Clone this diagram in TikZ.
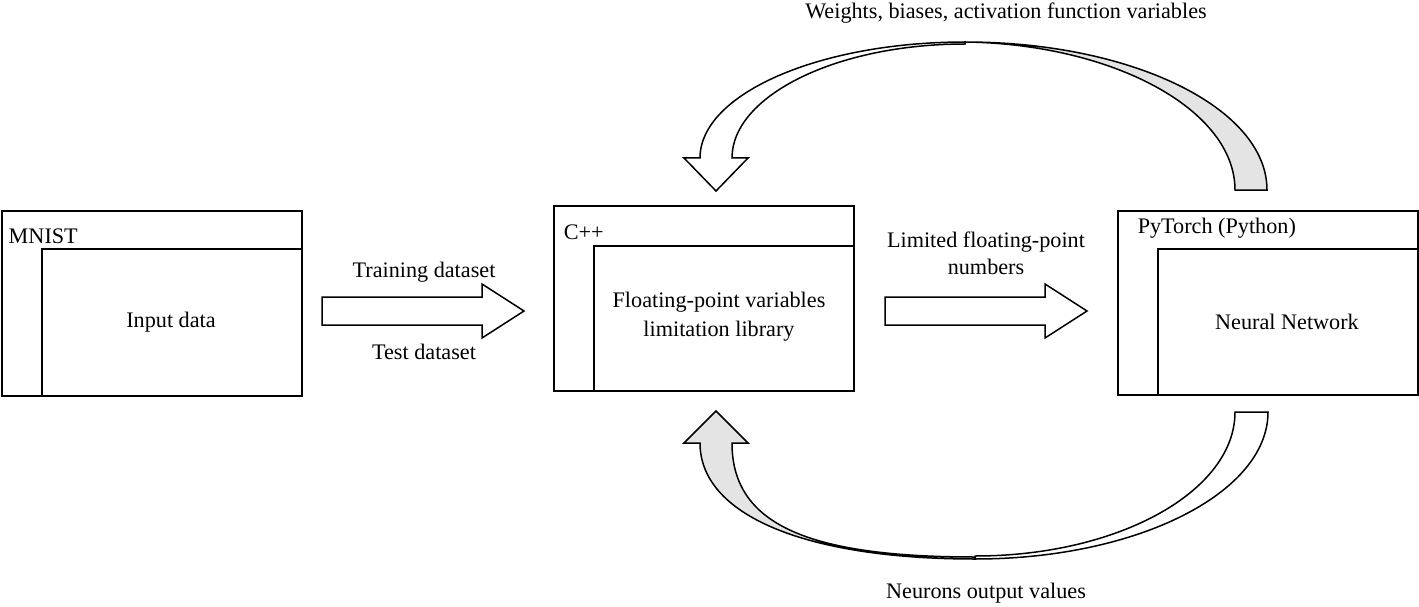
\documentclass[tikz,border=0pt]{standalone}
\usepackage{fontspec}
\setmainfont{Liberation Serif}
\definecolor{ribbon}{HTML}{E4E4E4}
\begin{document}
\begin{tikzpicture}[x=1pt,y=-1pt,line width=1.5pt,line join=miter,
  frame/.style={draw,line width=1.5pt,inner sep=0pt,anchor=north west},
  lbl/.style={font=\fontsize{22.2}{26}\selectfont,inner sep=0pt},
  blockarrow/.style={draw,fill=white,line width=1.5pt}]
\useasboundingbox (0,0) rectangle (1419,607);

% boxes
\node[frame,minimum width=300pt,minimum height=185pt] (mnist) at (1,210) {};
\node[frame,minimum width=260pt,minimum height=147pt] (mnistin) at (41,248) {};
\node[frame,minimum width=300pt,minimum height=185pt] (cpp) at (553,205) {};
\node[frame,minimum width=260pt,minimum height=145pt] (cppin) at (593,245) {};
\node[frame,minimum width=300pt,minimum height=184pt] (torch) at (1117,210) {};
\node[frame,minimum width=260pt,minimum height=146pt] (torchin) at (1157,248) {};

% texts
\node[lbl,anchor=west] (mnistlbl) at (8,236) {MNIST};
\node[lbl] (input) at (171,322) {Input data};
\node[lbl,anchor=west] (cpplbl) at (563,232) {C++};
\node[lbl,align=center] (lib) at (719,317) {Floating-point variables\\[3pt]limitation library};
\node[lbl,anchor=west] (torchlbl) at (1137,228) {PyTorch (Python)};
\node[lbl] (nn) at (1287,322) {Neural Network};
\node[lbl] (train) at (424,272) {Training dataset};
\node[lbl] (test) at (424,352) {Test dataset};
\node[lbl,align=center] (lim) at (986,253) {Limited floating-point\\[1pt]numbers};
\node[lbl] (wts) at (1006,13) {Weights, biases, activation function variables};
\node[lbl] (neu) at (986,593) {Neurons output values};

% straight block arrows
\draw[blockarrow] (322,297) -- (482,297) -- (482,284) -- (524,311) -- (482,338) -- (482,325) -- (322,325) -- cycle;
\draw[blockarrow] (885,297) -- (1045,297) -- (1045,284) -- (1087,311) -- (1045,338) -- (1045,325) -- (885,325) -- cycle;

% top curved arrow: back side (gray) and front (white with head)
\draw[fill=ribbon] (1267,190) .. controls (1267,108) and (1132,42) .. (965,42)
  .. controls (1114,44) and (1235,110) .. (1235,190) -- cycle;
\draw[fill=white] (965,42) .. controls (819,42) and (700,94) .. (700,158)
  -- (684,158) -- (716,191) -- (748,158) -- (732,158)
  .. controls (732,96) and (836,44) .. (965,44) -- cycle;

% bottom curved arrow: front (gray with head) and back (white)
\draw[fill=ribbon] (700,443) .. controls (700,515) and (805,559) .. (975,559)
  -- (975,557) .. controls (805,557) and (732,523) .. (732,443)
  -- (748,443) -- (716,411) -- (684,443) -- cycle;
\draw[fill=white] (975,559) .. controls (1137,559) and (1268,493) .. (1268,412)
  -- (1235,412) .. controls (1235,491) and (1119,556) .. (975,556) -- cycle;
\end{tikzpicture}
\end{document}
